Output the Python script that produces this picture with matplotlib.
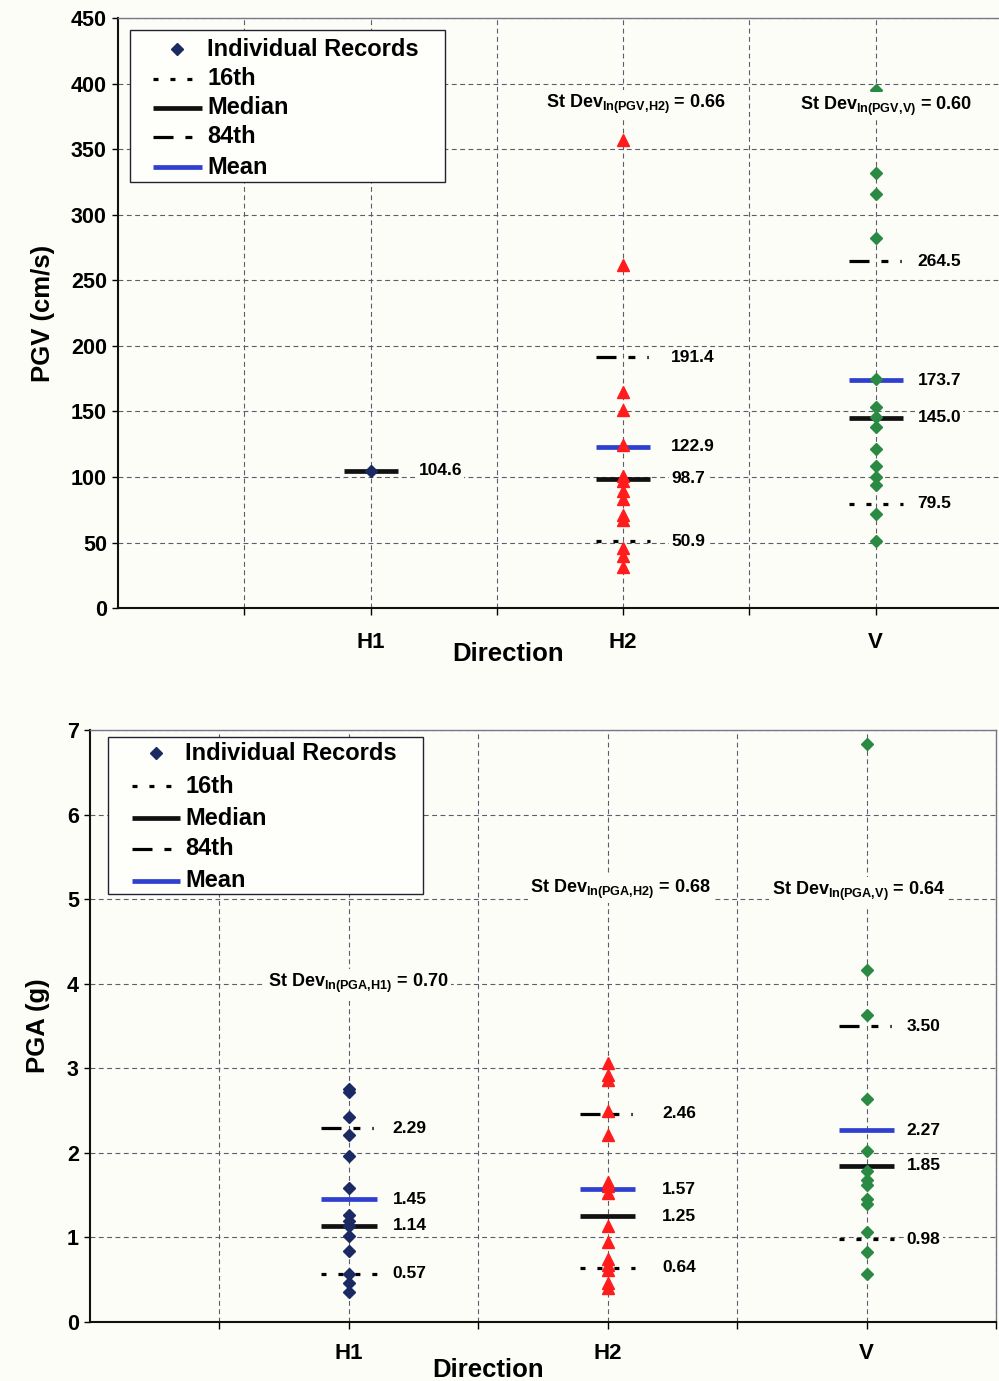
import numpy as np
import matplotlib.pyplot as plt
from matplotlib.patches import Rectangle

plt.rcParams['font.family'] = ['Liberation Sans', 'DejaVu Sans']
plt.rcParams['font.weight'] = 'bold'
plt.rcParams['axes.labelweight'] = 'bold'
plt.rcParams['mathtext.fontset'] = 'custom'
plt.rcParams['mathtext.rm'] = 'Liberation Sans:bold'
plt.rcParams['mathtext.it'] = 'Liberation Sans:bold'
plt.rcParams['mathtext.bf'] = 'Liberation Sans:bold'
plt.rcParams['lines.scale_dashes'] = False

directions = ['H1', 'H2', 'V']

# peak ground velocity, cm/s
pgv_h1 = [104.6]
pgv_h2 = [357, 262, 165, 151, 124, 101, 97, 89, 83, 71, 67, 46, 40, 31]
pgv_v = [395, 332, 316, 282, 175, 153, 146, 138, 121, 108, 100, 94, 72, 51]
pgv_p16 = [np.nan, 50.9, 79.5]
pgv_median = [104.6, 98.7, 145.0]
pgv_p84 = [np.nan, 191.4, 264.5]
pgv_mean = [np.nan, 122.9, 173.7]
pgv_sd = [np.nan, 0.66, 0.60]

# peak ground acceleration, g
pga_h1 = [2.76, 2.72, 2.43, 2.21, 1.96, 1.59, 1.27, 1.20, 1.14, 1.02, 0.84, 0.57, 0.46, 0.36]
pga_h2 = [3.06, 2.92, 2.86, 2.50, 2.21, 1.66, 1.61, 1.52, 1.13, 0.95, 0.74, 0.68, 0.62, 0.46, 0.40]
pga_v = [6.84, 4.16, 3.63, 2.64, 2.02, 1.78, 1.68, 1.62, 1.45, 1.40, 1.07, 0.83, 0.57]
pga_p16 = [0.57, 0.64, 0.98]
pga_median = [1.14, 1.25, 1.85]
pga_p84 = [2.29, 2.46, 3.50]
pga_mean = [1.45, 1.57, 2.27]
pga_sd = [0.70, 0.68, 0.64]

BG = '#fdfdf7'
GRID = '#5c5c6e'
NAVY = '#1b2a63'
RED = '#ff1c1c'
GREEN = '#2a8a44'
BLUE = '#2f3fcf'
MARKERS = [('D', NAVY, 6.3), ('^', RED, 8.0), ('D', GREEN, 6.3)]
DOT16 = (0, (3.6, 8.6))
DASH84 = (0, (14.4, 8.6, 5.0, 8.6, 1.0, 20))
HALF = 0.107

# (style, colour, width) for each statistic line
STAT_STYLE = {
    'p16': (DOT16, 'black', 2.3),
    'median': ('-', '#111111', 3.4),
    'p84': (DASH84, 'black', 2.3),
    'mean': ('-', BLUE, 3.4),
}


def draw_key(ax, box, rows_y, x_line, x_text):
    x0, x1, y0, y1 = box
    ax.add_patch(Rectangle((x0, y0), x1 - x0, y1 - y0, transform=ax.transAxes,
                           fc='#fefefb', ec='#222233', lw=1.0, zorder=6, clip_on=False))
    kw = dict(transform=ax.transAxes, clip_on=False, zorder=7)
    xm = 0.5 * (x_line[0] + x_line[1])
    ax.plot([xm], [rows_y[0]], marker='D', ms=6.3, color=NAVY, ls='none', **kw)
    for key, y in zip(['p16', 'median', 'p84', 'mean'], rows_y[1:]):
        ls, c, lw = STAT_STYLE[key]
        ax.plot(x_line, [y, y], ls=ls, color=c, lw=lw, solid_capstyle='butt',
                dash_capstyle='butt', **kw)
    names = ['Individual Records', '16th', 'Median', '84th', 'Mean']
    for name, y in zip(names, rows_y):
        ax.text(x_text, y, name, transform=ax.transAxes, fontsize=17,
                ha='left', va='center', zorder=8)


def draw_panel(ax, records, stats, fmt, label_dx, ylim, ystep, sd_labels):
    ax.set_facecolor(BG)
    ax.set_xlim(0, 3.5)
    ax.set_ylim(0, ylim)
    ax.set_xticks(np.arange(0.5, 3.51, 0.5))
    ax.set_xticklabels(['', 'H1', '', 'H2', '', 'V', ''])
    ax.set_yticks(np.arange(0, ylim + ystep / 2, ystep))
    ax.yaxis.set_major_formatter(plt.FormatStrFormatter('%g'))
    ax.grid(True, color=GRID, lw=0.8, ls=(0, (3.5, 2.5)))
    ax.set_axisbelow(True)
    ax.tick_params(axis='y', direction='out', length=4.5, width=1, pad=3.5, labelsize=15.5)
    ax.tick_params(axis='x', direction='out', length=5, width=1, labelsize=16)
    for side in ['left', 'bottom']:
        ax.spines[side].set_color('#111111')
        ax.spines[side].set_linewidth(1.5)
    for side in ['top', 'right']:
        ax.spines[side].set_color('#77778a')
        ax.spines[side].set_linewidth(1.0)

    for i, vals in enumerate(records):
        m, c, ms = MARKERS[i]
        ax.plot(np.full(len(vals), i + 1.0), vals, ls='none', marker=m, ms=ms,
                color=c, zorder=5)

    for key, vals in stats.items():
        ls, c, lw = STAT_STYLE[key]
        for i, v in enumerate(vals):
            if np.isnan(v):
                continue
            x = i + 1.0
            ax.hlines(v, x - HALF, x + HALF, colors=c, lw=lw, linestyles=ls, zorder=4)
            ax.text(x + label_dx[i], v, fmt.format(v), fontsize=12.5, ha='left',
                    va='center', zorder=6,
                    bbox=dict(fc=BG, ec='none', pad=1.5))

    for text, x, y in sd_labels:
        ax.text(x, y, text, fontsize=13, ha='center', va='center', zorder=6,
                bbox=dict(fc=BG, ec='none', pad=2))


fig = plt.figure(figsize=(9.99, 13.81), dpi=100, facecolor=BG)

# --- PGV ---
ax1 = fig.add_axes([0.1181, 0.5597, 0.8849, 0.4272])
draw_panel(ax1, [pgv_h1, pgv_h2, pgv_v],
           {'p16': pgv_p16, 'median': pgv_median, 'p84': pgv_p84, 'mean': pgv_mean},
           '{:.1f}', [0.19, 0.19, 0.165], 450, 50,
           [(r'St Dev$_{\mathrm{ln(PGV,\!H2)}}$ = %.2f' % pgv_sd[1], 2.05, 384),
            (r'St Dev$_{\mathrm{ln(PGV,\!V)}}$ = %.2f' % pgv_sd[2], 3.04, 383)])
ax1.tick_params(axis='x', pad=12)
ax1.set_ylabel('PGV (cm/s)', fontsize=18.5)
ax1.yaxis.set_label_coords(-0.071, 0.5)
ax1.set_xlabel('Direction', fontsize=18.5)
ax1.xaxis.set_label_coords(0.441, -0.058)
draw_key(ax1, (0.0136, 0.370, 0.722, 0.980),
         [0.947, 0.897, 0.848, 0.799, 0.747], [0.0396, 0.095], 0.1007)

# --- PGA ---
ax2 = fig.add_axes([0.0901, 0.0427, 0.9069, 0.4287])
draw_panel(ax2, [pga_h1, pga_h2, pga_v],
           {'p16': pga_p16, 'median': pga_median, 'p84': pga_p84, 'mean': pga_mean},
           '{:.2f}', [0.17, 0.21, 0.155], 7, 1,
           [(r'St Dev$_{\mathrm{ln(PGA,\!H1)}}$ = %.2f' % pga_sd[0], 1.035, 4.0),
            (r'St Dev$_{\mathrm{ln(PGA,\!H2)}}$ = %.2f' % pga_sd[1], 2.05, 5.12),
            (r'St Dev$_{\mathrm{ln(PGA,\!V)}}$ = %.2f' % pga_sd[2], 2.97, 5.09)])
ax2.tick_params(axis='x', pad=10)
ax2.set_ylabel('PGA (g)', fontsize=18.5)
ax2.yaxis.set_label_coords(-0.044, 0.5)
ax2.set_xlabel('Direction', fontsize=18.5)
ax2.xaxis.set_label_coords(0.439, -0.060)
draw_key(ax2, (0.0199, 0.3675, 0.723, 0.988),
         [0.961, 0.905, 0.851, 0.799, 0.745], [0.0464, 0.0993], 0.1049)

fig.savefig('out.png', dpi=100, facecolor=BG)
